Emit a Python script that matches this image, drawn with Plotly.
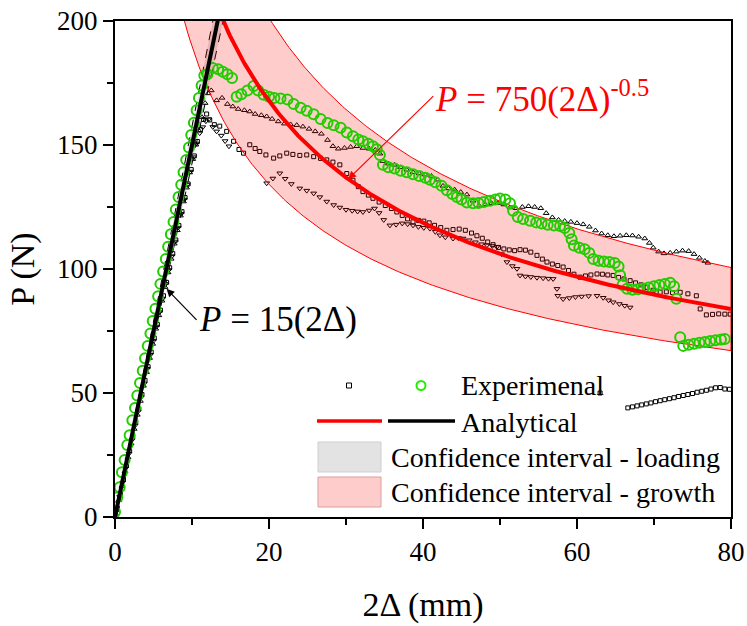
import numpy as np
import plotly.graph_objects as go

FONT = "Liberation Serif"

# ---------------- experimental data (2Δ in mm, P in N) ----------------
# specimen 1 - triangles up
s1_x = [0.1, 0.5, 0.9, 1.3, 1.7, 2.1, 2.5, 2.9, 3.3, 3.7, 4.1, 4.5, 4.9, 5.3, 5.7, 6.1,
        6.5, 6.9, 7.3, 7.7, 8.1, 8.5, 8.9, 9.3, 9.7, 10.1, 10.5, 10.9, 11.3, 11.7, 12.1, 12.5,
        13.2, 13.9, 14.6, 15.3, 16.0, 16.8, 17.5, 18.2, 19.0, 19.7, 20.4, 21.2, 22.0, 22.8,
        23.6, 24.4, 25.2, 26.0, 26.8, 27.6, 28.3, 29.0, 29.8, 30.6, 31.4, 32.2, 33.0, 33.8,
        34.4, 34.8, 35.5, 36.3, 37.1, 37.9, 38.7, 39.5, 40.3, 41.1, 41.9, 42.6, 43.3, 44.1,
        44.9, 45.7, 46.5, 47.3, 48.1, 48.9, 49.7, 50.5, 51.3, 52.1, 52.9, 53.7, 54.5, 55.3,
        56.0, 56.8, 57.6, 58.4, 59.2, 60.0, 60.8, 61.6, 62.4, 63.2, 64.0, 64.8, 65.6, 66.4,
        67.2, 68.0, 68.8, 69.4, 69.9, 70.6, 71.3, 72.1, 72.9, 73.7, 74.5, 75.2, 75.9, 76.6, 77.0]
s1_y = [1.2, 6.8, 12.5, 18.4, 24.1, 29.6, 35.5, 41.2, 46.8, 52.9, 58.4, 64.1, 69.8, 75.9, 81.3, 87.2,
        92.7, 98.6, 104.1, 110.2, 115.6, 121.5, 127.2, 132.8, 138.9, 144.3, 150.1, 155.8, 161.2, 166.9, 170.8, 172.0,
        168.0, 169.0, 166.5, 165.5, 164.5, 164.0, 163.5, 162.5, 162.0, 161.5, 160.5, 159.5, 158.6, 158.3,
        158.0, 157.4, 156.5, 155.5, 154.5, 152.0, 149.5, 148.5, 148.8, 149.2, 149.5, 148.8, 148.5, 148.0,
        146.5, 143.5, 142.5, 142.0, 141.0, 140.0, 139.0, 138.5, 138.0, 137.5, 136.0, 133.5, 132.5, 132.0,
        131.0, 130.0, 127.5, 125.5, 126.0, 126.5, 126.5, 126.0, 124.8, 124.5, 125.0, 125.3, 125.0, 124.5,
        122.5, 120.8, 119.8, 119.3, 119.0, 118.5, 118.0, 117.0, 115.5, 114.3, 113.6, 113.2, 113.4, 113.6,
        113.5, 113.0, 112.3, 110.5, 108.6, 107.0, 106.3, 106.5, 107.0, 107.4, 107.2, 106.0, 104.5, 103.2, 102.5]

# specimen 2 - squares
s2_x = [0.3, 0.7, 1.1, 1.5, 1.9, 2.3, 2.7, 3.1, 3.5, 3.9, 4.3, 4.7, 5.1, 5.5, 5.9, 6.3,
        6.7, 7.1, 7.5, 7.9, 8.3, 8.7, 9.1, 9.5, 9.9, 10.3, 10.7, 11.1, 11.5, 11.9, 12.3,
        12.9, 13.6, 14.5, 15.4, 16.1, 16.7, 17.5, 18.2, 18.8, 19.6, 20.6, 21.4, 22.3, 23.1,
        24.0, 24.9, 25.8, 26.7, 27.5, 28.3, 29.2, 30.1, 30.9, 31.6, 32.2, 32.9, 33.5, 34.3,
        35.1, 35.9, 36.6, 37.3, 38.0, 38.7, 39.4, 40.1, 40.8, 41.5, 42.3, 43.1, 43.9, 44.7,
        45.5, 46.3, 47.0, 47.7, 48.4, 49.1, 49.8, 50.5, 51.2, 51.9, 52.6, 53.3, 54.0, 54.8,
        55.5, 56.1, 56.8, 57.5, 58.2, 58.9, 59.6, 60.4, 61.1, 61.8, 62.6, 63.3, 64.0, 64.7,
        65.4, 66.1, 66.9, 67.6, 68.3, 69.1, 69.9, 70.8, 71.6, 72.4, 73.4, 74.4, 75.5, 76.0,
        76.8, 77.6, 78.4, 79.2, 79.9]
s2_y = [3.6, 9.5, 15.2, 20.8, 26.7, 32.2, 38.1, 43.5, 49.4, 55.1, 60.6, 66.5, 72.1, 77.6, 83.4, 89.2,
        94.6, 100.5, 106.2, 111.7, 117.5, 123.1, 128.8, 134.3, 140.1, 145.6, 151.4, 156.2, 160.3, 162.5, 160.1,
        158.2, 157.6, 155.5, 151.5, 148.2, 146.7, 150.1, 148.6, 147.4, 146.0, 144.7, 145.6, 146.7, 146.2,
        145.8, 146.0, 145.3, 144.6, 144.0, 143.1, 142.0, 138.5, 135.8, 133.2, 131.2, 129.8, 128.5, 127.0,
        125.6, 124.4, 123.0, 121.6, 120.2, 119.0, 119.6, 119.3, 118.6, 117.6, 116.7, 115.6, 115.9, 116.1,
        115.6, 114.5, 113.4, 112.4, 110.9, 109.8, 108.7, 108.1, 107.7, 107.4, 107.8, 107.6, 106.8, 105.5,
        104.0, 102.8, 102.0, 101.4, 100.8, 99.4, 97.9, 96.7, 97.2, 97.6, 98.0, 97.9, 97.6, 97.4,
        96.6, 96.0, 95.3, 94.4, 93.6, 92.6, 91.4, 90.6, 90.8, 90.5, 90.6, 90.0, 89.2, 83.9,
        81.5, 81.7, 81.9, 81.8, 81.8]

# specimen 3 - triangles down
s3_x = [0.2, 0.6, 1.0, 1.4, 1.8, 2.2, 2.6, 3.0, 3.4, 3.8, 4.2, 4.6, 5.0, 5.4, 5.8, 6.2,
        6.6, 7.0, 7.4, 7.8, 8.2, 8.6, 9.0, 9.4, 9.8, 10.2, 10.6, 11.0, 11.4, 11.8, 12.2, 12.7,
        13.2, 13.8, 14.3, 14.8,
        19.7, 20.5, 21.4, 22.1, 22.9, 24.0, 24.9, 25.8, 26.6, 27.5, 28.4, 29.2, 30.0, 30.8,
        31.5, 32.2, 33.0, 33.7, 34.3, 34.9, 35.7, 36.5, 37.3, 38.0, 38.7, 39.4, 40.1, 40.9,
        41.6, 42.2, 42.9, 43.9, 44.6, 45.2, 46.0, 46.8, 47.6, 48.3, 49.0, 49.6, 50.2, 50.9,
        51.6, 52.2, 52.6, 53.3, 54.0, 54.8, 55.6, 56.3, 56.9, 57.4, 57.5, 58.2, 59.0, 59.8,
        60.6, 61.5, 62.6, 63.4, 64.1, 64.7, 65.5, 66.2, 66.9]
s3_y = [2.3, 8.1, 13.9, 19.6, 25.5, 31.0, 36.9, 42.6, 48.3, 53.8, 59.8, 65.4, 71.0, 76.8, 82.6, 88.1,
        94.0, 99.6, 105.2, 111.1, 116.7, 122.3, 128.0, 133.9, 139.3, 145.1, 150.6, 154.8, 157.2, 159.6, 160.4, 157.3,
        155.5, 153.8, 151.6, 149.5,
        134.6, 136.5, 138.6, 136.4, 134.3, 132.5, 131.6, 130.5, 129.0, 127.2, 125.8, 124.8, 123.9, 123.5,
        123.2, 123.0, 123.6, 124.4, 122.6, 119.8, 117.6, 117.9, 118.4, 118.1, 117.6, 117.0, 116.6, 116.3,
        115.0, 113.6, 112.8, 112.3, 112.5, 112.3, 111.6, 110.8, 110.0, 109.6, 109.3, 108.9, 106.0, 102.8,
        101.2, 100.1, 97.4, 97.0, 96.8, 96.5, 96.3, 96.1, 96.0, 92.0, 89.2, 87.9, 88.3, 88.7,
        88.9, 89.1, 89.2, 88.4, 87.4, 86.6, 85.9, 85.2, 84.5]

# specimen 4 - squares (late segment)
s4_x = [63.0, 66.6, 67.2, 67.8, 68.4, 69.0, 69.6, 70.2, 70.8, 71.4, 72.0, 72.6, 73.2, 73.8,
        74.4, 75.0, 75.6, 76.2, 76.8, 77.4, 78.0, 78.6, 79.2, 79.8]
s4_y = [50.0, 44.0, 44.4, 44.8, 45.2, 45.6, 46.0, 46.5, 46.9, 47.3, 47.7, 48.1, 48.6, 49.0,
        49.4, 49.8, 50.3, 50.7, 51.1, 51.6, 52.1, 52.2, 51.6, 51.5]

# specimen 5 - open circles (green)
s5_x = [0.0, 0.3, 0.6, 0.9, 1.25, 1.6, 1.9, 2.25, 2.6, 2.9, 3.25, 3.6, 3.9, 4.25, 4.6, 4.9,
        5.25, 5.6, 5.9, 6.25, 6.6, 6.9, 7.25, 7.6, 7.9, 8.25, 8.6, 8.9, 9.25, 9.6, 9.9, 10.25,
        10.6, 10.9, 11.25, 11.6,
        12.0, 12.7, 13.4, 14.0, 14.6, 15.2, 15.8, 16.4, 17.2, 18.0, 18.6, 19.3, 20.0, 20.7,
        21.5, 22.4, 23.2, 24.1, 24.9, 25.8, 26.7, 27.6, 28.4, 29.3, 30.1, 30.9, 31.6, 32.2,
        32.9, 33.5, 34.0, 34.4, 34.8, 35.5, 36.3, 37.1, 37.9, 38.7, 39.5, 40.3, 40.9, 41.6,
        42.4, 43.1, 43.8, 44.4, 45.0, 45.7, 46.5, 47.2, 47.9, 48.7, 49.4, 50.0, 50.7, 51.3,
        51.7, 52.3, 53.0, 53.9, 54.7, 55.4, 56.2, 57.0, 57.8, 58.4, 59.0, 59.3, 59.6, 60.3,
        61.0, 61.6, 62.1, 62.8, 63.5, 64.2, 64.9, 65.4, 65.6, 65.9, 66.5, 67.2, 67.9, 68.6,
        69.3, 70.0, 70.7, 71.4, 72.1, 72.6, 72.9, 73.4, 73.8, 74.5, 75.2, 75.9, 76.6, 77.3,
        78.0, 78.7, 79.2]
s5_y = [2, 8, 12, 18, 23, 29, 33, 39, 44, 49, 54, 59, 64, 69, 74, 79,
        84, 89, 94, 99, 104, 109, 114, 119, 124, 129, 134, 139, 144, 149, 154, 159,
        164, 169, 174, 178,
        178.5, 181.0, 180.5, 179.5, 178.5, 177.0, 169.5, 170.5, 172.0, 173.8, 172.0, 170.3, 169.5, 169.0,
        168.8, 168.3, 166.5, 165.0, 163.8, 162.4, 160.5, 158.9, 158.0, 157.0, 155.0, 153.5, 152.2, 151.5,
        150.5, 149.5, 148.3, 146.0, 142.0, 141.0, 140.5, 139.6, 139.0, 138.2, 137.5, 136.8, 136.0, 135.0,
        133.6, 131.8, 130.2, 129.0, 128.0, 126.8, 126.5, 126.6, 127.0, 127.5, 128.0, 128.4, 128.0, 126.5,
        123.5, 121.0, 120.2, 119.5, 118.8, 118.3, 117.8, 117.5, 117.3, 116.5, 114.5, 112.0, 109.5, 108.6,
        108.0, 106.5, 104.0, 103.3, 103.0, 102.8, 102.4, 101.0, 97.5, 93.5, 92.0, 91.6, 91.8, 92.1,
        92.5, 93.0, 93.5, 94.0, 94.5, 93.0, 88.0, 72.5, 69.0, 69.5, 69.9, 70.3, 70.6, 71.0,
        71.3, 71.6, 71.8]

# ---------------- analytical models ----------------
K_LOAD = 15.0            # P = 15(2Δ)
K_LOAD_LO, K_LOAD_HI = 14.25, 15.75
A_GROW = 750.0           # P = 750(2Δ)^-0.5
A_GROW_LO, A_GROW_HI = 600.0, 900.0
EXPONENT = -0.5

GREEN = "#22cc00"

x_load = np.array([0.0, 14.5])
x_grow = np.linspace(8.5, 80.0, 300)

fig = go.Figure()

for xs, ys, sym, sz in [(s1_x, s1_y, "triangle-up-open", 5),
                        (s2_x, s2_y, "square-open", 4),
                        (s3_x, s3_y, "triangle-down-open", 5),
                        (s4_x, s4_y, "square-open", 4)]:
    fig.add_trace(go.Scatter(x=xs, y=ys, mode="markers", showlegend=False,
                             marker=dict(symbol=sym, size=sz, color="black",
                                         line=dict(color="black", width=1))))

# confidence interval - loading
fig.add_trace(go.Scatter(
    x=np.concatenate([x_load, x_load[::-1]]),
    y=np.concatenate([K_LOAD_HI * x_load, (K_LOAD_LO * x_load)[::-1]]),
    fill="toself", fillcolor="rgba(128,128,128,0.22)", mode="lines",
    line=dict(width=0), showlegend=False, hoverinfo="skip"))
for k in (K_LOAD_LO, K_LOAD_HI):
    fig.add_trace(go.Scatter(x=x_load, y=k * x_load, mode="lines", showlegend=False,
                             line=dict(color="black", width=1, dash="dash")))

# confidence interval - growth
up = A_GROW_HI * x_grow ** EXPONENT
lo = A_GROW_LO * x_grow ** EXPONENT
fig.add_trace(go.Scatter(
    x=np.concatenate([x_grow, x_grow[::-1]]),
    y=np.concatenate([up, lo[::-1]]),
    fill="toself", fillcolor="rgba(255,0,0,0.2)", mode="lines",
    line=dict(color="red", width=1), showlegend=False, hoverinfo="skip"))

# green specimen
fig.add_trace(go.Scatter(x=s5_x, y=s5_y, mode="markers", showlegend=False,
                         marker=dict(symbol="circle-open", size=10, color=GREEN,
                                     line=dict(color=GREEN, width=2))))

# analytical lines
fig.add_trace(go.Scatter(x=x_load, y=K_LOAD * x_load, mode="lines", showlegend=False,
                         line=dict(color="black", width=4)))
fig.add_trace(go.Scatter(x=x_grow, y=A_GROW * x_grow ** EXPONENT, mode="lines",
                         showlegend=False, line=dict(color="red", width=4)))

# ---------------- equation labels ----------------
xa = 30.3
fig.add_annotation(x=xa, y=A_GROW * xa ** EXPONENT, ax=85, ay=-83,
                   text="<i>P</i> = 750(2Δ)<sup>-0.5</sup>", xanchor="left", yanchor="middle",
                   font=dict(family=FONT, size=35, color="red"),
                   showarrow=True, arrowhead=2, arrowsize=1.3, arrowwidth=1.2, arrowcolor="red")
xb = 6.7
fig.add_annotation(x=xb, y=92.0, ax=30, ay=31,
                   text="<i>P</i> = 15(2Δ)", xanchor="left", yanchor="middle",
                   font=dict(family=FONT, size=35, color="black"),
                   showarrow=True, arrowhead=2, arrowsize=1.3, arrowwidth=1.2, arrowcolor="black")

# ---------------- legend (drawn in paper coordinates) ----------------
L, R, T, B = 115, 731, 21, 517


def px(xp):
    return (xp - L) / (R - L)


def py(yp):
    return (B - yp) / (B - T)


shapes = [
    dict(type="rect", x0=px(346.5), x1=px(351.5), y0=py(388), y1=py(383),
         line=dict(color="black", width=1)),
    dict(type="circle", x0=px(416.5), x1=px(425.5), y0=py(390), y1=py(381),
         line=dict(color="#22ee00", width=2)),
    dict(type="line", x0=px(317), x1=px(382), y0=py(421), y1=py(421),
         line=dict(color="red", width=3.5)),
    dict(type="line", x0=px(388), x1=px(455), y0=py(421), y1=py(421),
         line=dict(color="black", width=3.5)),
    dict(type="rect", x0=px(318), x1=px(381), y0=py(472), y1=py(442),
         fillcolor="#e3e3e3", line=dict(color="#cfcfcf", width=1)),
    dict(type="rect", x0=px(318), x1=px(381), y0=py(507), y1=py(477),
         fillcolor="#ffcccc", line=dict(color="#d8a0a0", width=1)),
]
for s in shapes:
    s.update(xref="paper", yref="paper")
    fig.add_shape(**s)

legend_items = [("Experimenal", 459, 385), ("Analytical", 459, 422),
                ("Confidence interval - loading", 389, 457),
                ("Confidence interval - growth", 389, 492)]
for txt, xp, yp in legend_items:
    fig.add_annotation(x=px(xp), y=py(yp), xref="paper", yref="paper", text=txt,
                       showarrow=False, xanchor="left", yanchor="middle",
                       font=dict(family=FONT, size=28, color="black"))

axis_common = dict(showgrid=False, zeroline=False, showline=True, linecolor="black",
                   linewidth=2, mirror=True, ticks="outside", ticklen=10, tickwidth=2,
                   tickcolor="black", automargin=False,
                   tickfont=dict(family=FONT, size=27, color="black"))

fig.update_xaxes(range=[0, 80], tick0=0, dtick=20,
                 minor=dict(dtick=10, ticks="outside", ticklen=6, tickwidth=2, tickcolor="black"),
                 title=dict(text="2Δ (mm)", font=dict(family=FONT, size=34, color="black"),
                            standoff=26),
                 **axis_common)
fig.update_yaxes(range=[0, 200], tick0=0, dtick=50,
                 minor=dict(dtick=25, ticks="outside", ticklen=6, tickwidth=2, tickcolor="black"),
                 title=dict(text="P (N)", font=dict(family=FONT, size=34, color="black"),
                            standoff=12),
                 **axis_common)

fig.update_layout(template="none", width=747, height=626,
                  margin=dict(l=L, r=747 - R, t=T, b=626 - B),
                  paper_bgcolor="white", plot_bgcolor="white", showlegend=False,
                  font=dict(family=FONT, color="black"))

fig.write_html("out.html")
